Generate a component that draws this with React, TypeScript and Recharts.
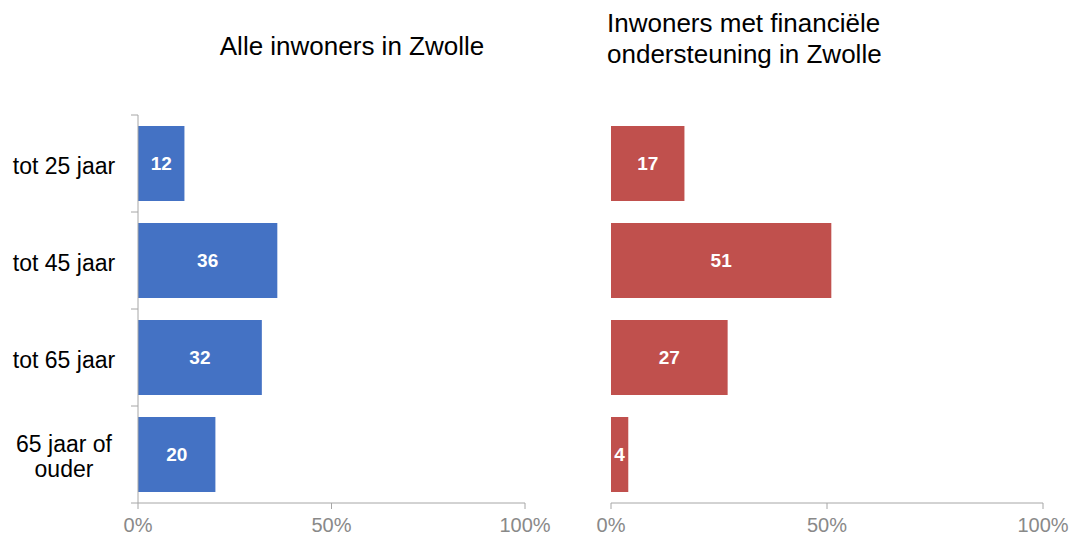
import { BarChart, Bar, XAxis, YAxis, LabelList } from "recharts";

const categories = ["tot 25 jaar", "tot 45 jaar", "tot 65 jaar", "65 jaar of\nouder"];
const alleInwoners = [12, 36, 32, 20];
const metOndersteuning = [17, 51, 27, 4];
const xTicks = [0, 50, 100];

const leftTitle = "Alle inwoners in Zwolle";
const rightTitle = ["Inwoners met financiële", "ondersteuning in Zwolle"];

const BLUE = "#4472C4";
const RED = "#C0504D";
const AXIS = "#a6a6a6";
const TICK_TEXT = "#898989";
const FONT = "'Liberation Sans', Arial, sans-serif";

const W = 1073;
const H = 537;
const PLOT_TOP = 115;
const X_AXIS_H = 34;
const Y_AXIS_W = 138;
const BAND = (H - PLOT_TOP - X_AXIS_H) / categories.length;

const leftData = categories.map((c, i) => ({ cat: c, value: alleInwoners[i] }));
const rightData = categories.map((c, i) => ({ cat: c, value: metOndersteuning[i] }));

function CategoryTick(props: any) {
  const { y, payload, index } = props;
  const lines = String(payload.value).split("\n");
  const n = lines.length;
  const isLast = index === categories.length - 1;
  return (
    <g>
      <line x1={Y_AXIS_W - 7} x2={Y_AXIS_W} y1={y - BAND / 2} y2={y - BAND / 2} stroke={AXIS} />
      {isLast && (
        <line x1={Y_AXIS_W - 7} x2={Y_AXIS_W} y1={y + BAND / 2} y2={y + BAND / 2} stroke={AXIS} />
      )}
      <text x={64} y={y} textAnchor="middle" fill="#000" fontSize={23} fontFamily={FONT}>
        {lines.map((l, i) => (
          <tspan key={i} x={64} y={y + 10 + (i - (n - 1) / 2) * 25}>
            {l}
          </tspan>
        ))}
      </text>
    </g>
  );
}

function xAxisProps() {
  return {
    type: "number" as const,
    domain: [0, 100],
    ticks: xTicks,
    tickFormatter: (v: number) => `${v}%`,
    height: X_AXIS_H,
    stroke: AXIS,
    tick: { fill: TICK_TEXT, fontSize: 20, fontFamily: FONT },
    tickMargin: 9,
    tickSize: 6,
    interval: 0 as const,
  };
}

export default function App() {
  return (
    <div
      style={{
        position: "fixed",
        left: 0,
        top: 0,
        width: W,
        height: H,
        background: "#fff",
        fontFamily: FONT,
      }}
    >
      <div style={{ position: "absolute", left: 0, top: 0 }}>
        <BarChart
          width={560}
          height={H}
          layout="vertical"
          data={leftData}
          margin={{ top: PLOT_TOP, right: 35, bottom: 0, left: 0 }}
        >
          <XAxis {...xAxisProps()} />
          <YAxis
            type="category"
            dataKey="cat"
            width={Y_AXIS_W}
            stroke={AXIS}
            tickLine={false}
            tick={<CategoryTick />}
            interval={0}
          />
          <Bar dataKey="value" fill={BLUE} barSize={75} isAnimationActive={false}>
            <LabelList
              dataKey="value"
              position="center"
              fill="#fff"
              fontSize={19}
              fontWeight="bold"
              fontFamily={FONT}
            />
          </Bar>
        </BarChart>
      </div>
      <div style={{ position: "absolute", left: 560, top: 0 }}>
        <BarChart
          width={513}
          height={H}
          layout="vertical"
          data={rightData}
          margin={{ top: PLOT_TOP, right: 30, bottom: 0, left: 51 }}
        >
          <XAxis {...xAxisProps()} />
          <YAxis type="category" dataKey="cat" hide />
          <Bar dataKey="value" fill={RED} barSize={75} isAnimationActive={false}>
            <LabelList
              dataKey="value"
              position="center"
              fill="#fff"
              fontSize={19}
              fontWeight="bold"
              fontFamily={FONT}
            />
          </Bar>
        </BarChart>
      </div>
      <svg
        width={W}
        height={H}
        style={{ position: "absolute", left: 0, top: 0, pointerEvents: "none" }}
      >
        <text x={352} y={55} textAnchor="middle" fontSize={26} fill="#000" fontFamily={FONT}>
          {leftTitle}
        </text>
        {rightTitle.map((t, i) => (
          <text key={i} x={607} y={32 + i * 31} fontSize={26} fill="#000" fontFamily={FONT}>
            {t}
          </text>
        ))}
      </svg>
    </div>
  );
}
